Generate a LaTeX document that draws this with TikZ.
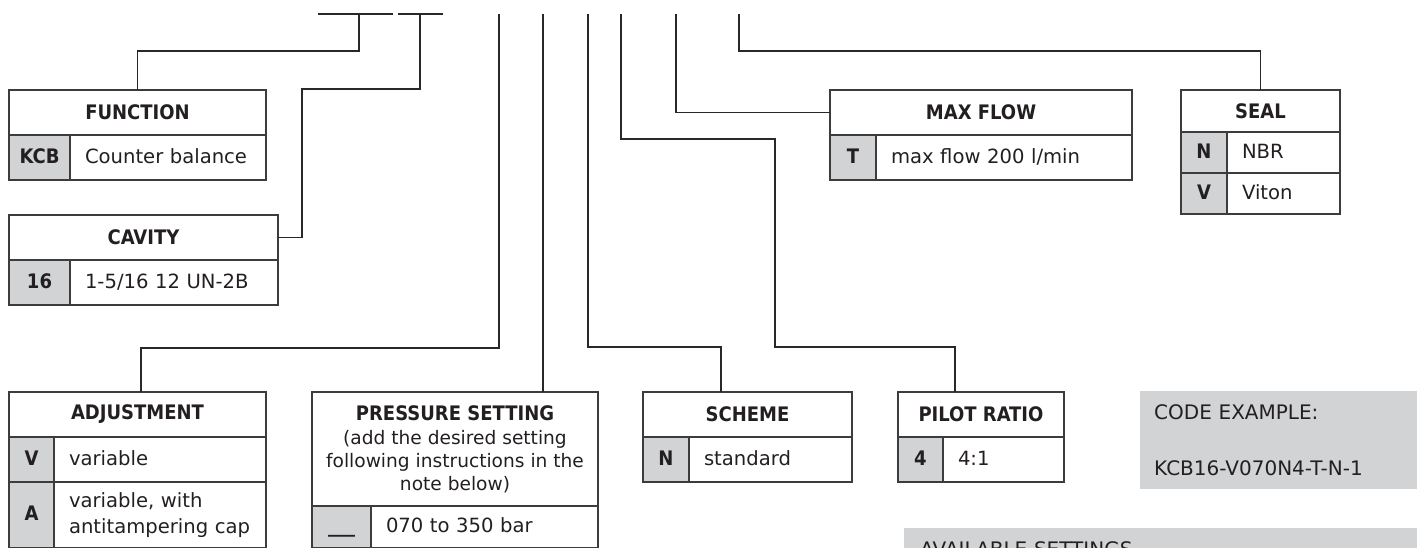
\documentclass[tikz,border=0pt]{standalone}
\usepackage{fontspec}
\setmainfont{DejaVu Sans}
\newfontfamily\condf{DejaVu Sans Condensed}
\definecolor{cellgray}{RGB}{209,211,212}
\definecolor{boxline}{RGB}{60,60,60}
\definecolor{connline}{RGB}{40,40,40}
\definecolor{ink}{RGB}{35,31,32}
\newcommand\subf{\normalfont\mdseries\fontsize{18.6}{22.5}\selectfont}
\begin{document}
\begin{tikzpicture}[x=1pt,y=-1pt,
  box/.style={draw=boxline, line width=1.2pt, inner sep=0pt, anchor=north west, outer sep=0pt, text=ink},
  hdr/.style={box, font=\condf\bfseries\fontsize{20}{23}\selectfont, align=center},
  key/.style={box, fill=cellgray, font=\condf\bfseries\fontsize{20}{23}\selectfont, text height=15pt, text depth=4pt},
  val/.style={box, inner xsep=15pt, align=left, font=\fontsize{19.6}{26}\selectfont, text height=15pt, text depth=4pt},
  conn/.style={draw=connline, line width=1.1pt},
  note/.style={fill=cellgray, anchor=north west, inner xsep=14pt, inner ysep=0pt, align=left, text=ink, font=\fontsize{20}{56}\selectfont}
]
\useasboundingbox (0,0) rectangle (1417,547);
\clip (0,0) rectangle (1417,547);

% FUNCTION
\node[hdr, minimum width=257pt, minimum height=45pt] (fnh) at (9,90) {FUNCTION};
\node[key, minimum width=61pt, minimum height=45pt] (fnk) at (9,135) {KCB};
\node[val, minimum width=196pt, minimum height=45pt, text width=166pt] (fnv) at (70,135) {Counter balance};

% CAVITY
\node[hdr, minimum width=269pt, minimum height=45pt] (cvh) at (9,215) {CAVITY};
\node[key, minimum width=61pt, minimum height=45pt] (cvk) at (9,260) {16};
\node[val, minimum width=208pt, minimum height=45pt, text width=178pt] (cvv) at (70,260) {1-5/16 12 UN-2B};

% MAX FLOW
\node[hdr, minimum width=302pt, minimum height=45pt] (mfh) at (830,90) {MAX FLOW};
\node[key, minimum width=46pt, minimum height=45pt] (mfk) at (830,135) {T};
\node[val, minimum width=256pt, minimum height=45pt, text width=226pt] (mfv) at (876,135) {max flow 200 l/min};

% SEAL
\node[hdr, minimum width=159pt, minimum height=42pt] (seh) at (1181,90) {SEAL};
\node[key, minimum width=46pt, minimum height=41pt] (sek1) at (1181,132) {N};
\node[val, minimum width=113pt, minimum height=41pt, text width=83pt] (sev1) at (1227,132) {NBR};
\node[key, minimum width=46pt, minimum height=41pt] (sek2) at (1181,173) {V};
\node[val, minimum width=113pt, minimum height=41pt, text width=83pt] (sev2) at (1227,173) {Viton};

% ADJUSTMENT
\node[hdr, minimum width=257pt, minimum height=45pt] (adh) at (9,392) {ADJUSTMENT};
\node[key, minimum width=45pt, minimum height=45pt] (adk1) at (9,437) {V};
\node[val, minimum width=212pt, minimum height=45pt, text width=182pt] (adv1) at (54,437) {variable};
\node[key, minimum width=45pt, minimum height=66pt] (adk2) at (9,482) {A};
\node[val, minimum width=212pt, minimum height=66pt, text width=182pt, text depth=30pt] (adv2) at (54,482) {variable, with\\antitampering~cap};

% PRESSURE SETTING
\node[hdr, minimum width=286pt, minimum height=114pt] (psh) at (312,392)
  {PRESSURE SETTING\\[1pt]\subf (add the desired setting\\\subf following instructions in the\\\subf note below)};
\node[key, minimum width=59pt, minimum height=42pt] (psk) at (312,506) {\_\_\_};
\node[val, minimum width=227pt, minimum height=42pt, text width=197pt] (psv) at (371,506) {070 to 350 bar};

% SCHEME
\node[hdr, minimum width=209pt, minimum height=45pt] (sch) at (643,392) {SCHEME};
\node[key, minimum width=46pt, minimum height=45pt] (sck) at (643,437) {N};
\node[val, minimum width=163pt, minimum height=45pt, text width=133pt] (scv) at (689,437) {standard};

% PILOT RATIO
\node[hdr, minimum width=166pt, minimum height=45pt] (pih) at (898,392) {PILOT RATIO};
\node[key, minimum width=45pt, minimum height=45pt] (pik) at (898,437) {4};
\node[val, minimum width=121pt, minimum height=45pt, text width=91pt] (piv) at (943,437) {4:1};

% notes
\node[note, minimum width=290pt, minimum height=98pt, text width=262pt] (cex) at (1140,391)
  {CODE EXAMPLE:\\KCB16-V070N4-T-N-1};
\node[note, inner xsep=16pt, inner ysep=13pt, text width=490pt, text depth=40pt] (avs) at (904,528)
  {AVAILABLE SETTINGS};

% code positions
\coordinate (u1s) at (318,14); \coordinate (u1e) at (393,14);
\coordinate (u2s) at (398,14); \coordinate (u2e) at (443,14);
\coordinate (t1) at (359,14);
\coordinate (t2) at (420,14);
\coordinate (t3) at (499,14);
\coordinate (t4) at (543,14);
\coordinate (t5) at (588,14);
\coordinate (t6) at (621,14);
\coordinate (t7) at (676,14);
\coordinate (t8) at (739,14);

\draw[conn] (u1s) -- (u1e);
\draw[conn] (u2s) -- (u2e);
\draw[conn] (t1) -- (359,51) -| (fnh.north);
\draw[conn] (t2) -- (420,89) -- (302,89) |- (cvh.east);
\draw[conn] (t3) -- (499,348) -| ([xshift=3.5pt]adh.north);
\draw[conn] (t4) -- (t4 |- psh.north);
\draw[conn] (t5) -- (588,347) -| ([xshift=78pt]sch.north west);
\draw[conn] (t6) -- (621,139) -- (775,139) -- (775,347) -| ([xshift=57pt]pih.north west);
\draw[conn] (t7) |- (mfh.west);
\draw[conn] (t8) -- (739,51) -| (seh.north);
\end{tikzpicture}
\end{document}
